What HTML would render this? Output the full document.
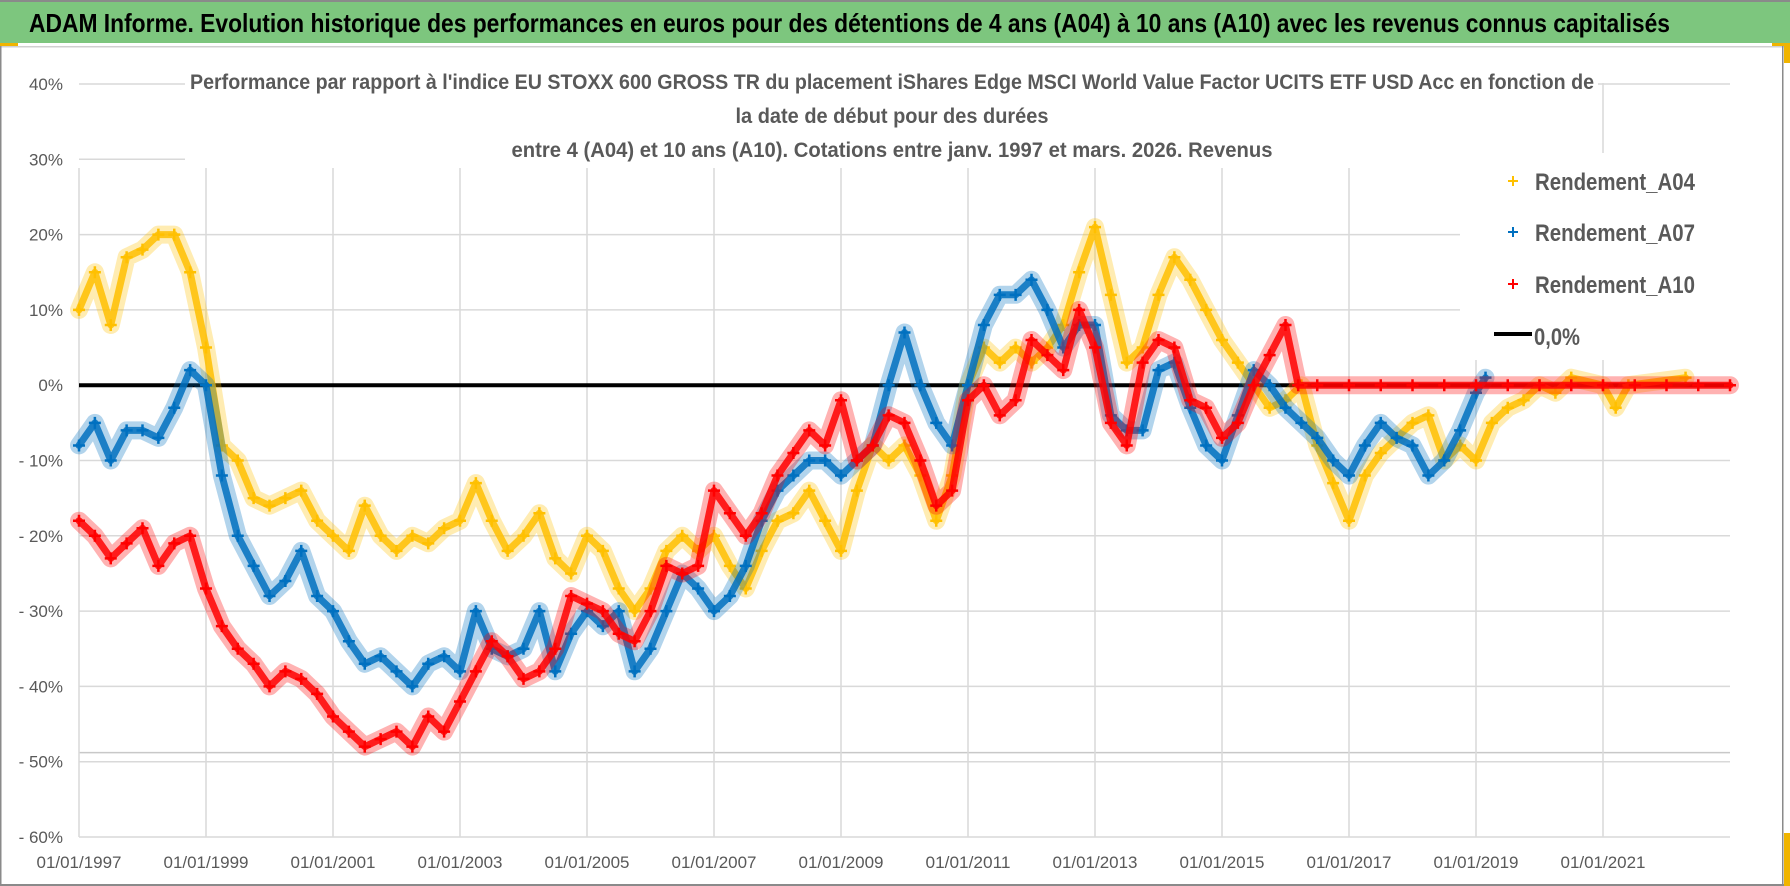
<!DOCTYPE html>
<html><head><meta charset="utf-8"><style>
html,body{margin:0;padding:0;background:#fff;}
svg{display:block;}
text{font-family:"Liberation Sans Narrow","Liberation Sans",sans-serif;}
</style></head><body>
<svg id="chart" width="1790" height="886" viewBox="0 0 1790 886" xmlns="http://www.w3.org/2000/svg">
<rect x="0" y="0" width="1790" height="886" fill="#fff"/>
<rect x="0" y="0" width="1790" height="43" fill="#7dc67e"/>
<rect x="0" y="0" width="1790" height="2" fill="#8a8a8a"/>
<text x="29" y="32" font-size="26" font-weight="bold" fill="#000" textLength="1641" lengthAdjust="spacingAndGlyphs">ADAM Informe. Evolution historique des performances en euros pour des détentions de 4 ans (A04) à 10 ans (A10) avec les revenus connus capitalisés</text>
<rect x="0" y="43" width="1790" height="3" fill="#fff"/>
<rect x="0" y="46" width="1790" height="1.5" fill="#d0d0d0"/>
<rect x="0" y="43" width="18" height="3" fill="#f0b400"/>
<rect x="0" y="46" width="1.5" height="840" fill="#8a8a8a"/>
<rect x="1782" y="46" width="1.5" height="840" fill="#8a8a8a"/>
<rect x="0" y="884" width="1790" height="2" fill="#8a8a8a"/>
<rect x="1772" y="43" width="18" height="3" fill="#f0b400"/>
<rect x="1784" y="43" width="6" height="20" fill="#f0b400"/>
<rect x="1784" y="833" width="6" height="53" fill="#f0b400"/>
<g id="grid"></g>
<g id="series"></g>
<rect x="185" y="68" width="1413" height="100" fill="#fff"/>
<rect x="1460" y="153" width="276" height="207" fill="#fff"/>
<g font-weight="bold" fill="#595959" font-size="21" text-anchor="middle">
<text x="892" y="89" textLength="1404" lengthAdjust="spacingAndGlyphs">Performance par rapport à l'indice EU STOXX 600 GROSS TR  du placement iShares Edge MSCI World Value Factor UCITS ETF USD Acc en fonction de</text>
<text x="892" y="123" textLength="313" lengthAdjust="spacingAndGlyphs">la date de début pour des durées</text>
<text x="892" y="157" textLength="761" lengthAdjust="spacingAndGlyphs">entre 4 (A04) et 10 ans (A10). Cotations entre janv. 1997 et mars. 2026. Revenus</text>
</g>
<g id="ylabels"></g>
<g id="xlabels"></g>
<g font-size="24" fill="#595959" font-weight="bold">
<g><path d="M1508 181h10M1513 176v10" stroke="#ffc000" stroke-width="2"/><text x="1535" y="190" textLength="160" lengthAdjust="spacingAndGlyphs">Rendement_A04</text></g>
<g><path d="M1508 232h10M1513 227v10" stroke="#0070c0" stroke-width="2"/><text x="1535" y="241" textLength="160" lengthAdjust="spacingAndGlyphs">Rendement_A07</text></g>
<g><path d="M1508 284h10M1513 279v10" stroke="#ff0000" stroke-width="2"/><text x="1535" y="293" textLength="160" lengthAdjust="spacingAndGlyphs">Rendement_A10</text></g>
<g><rect x="1494" y="332" width="38" height="4" fill="#000"/><text x="1534" y="345" textLength="46" lengthAdjust="spacingAndGlyphs">0,0%</text></g>
</g>
</svg>
<script>
const yTicks = [40,30,20,10,0,-10,-20,-30,-40,-50,-60];
const yTickLabels = ["40%","30%","20%","10%","0%","- 10%","- 20%","- 30%","- 40%","- 50%","- 60%"];
const xTicks = [1997,1999,2001,2003,2005,2007,2009,2011,2013,2015,2017,2019,2021];
const xTickLabels = ["01/01/1997","01/01/1999","01/01/2001","01/01/2003","01/01/2005","01/01/2007","01/01/2009","01/01/2011","01/01/2013","01/01/2015","01/01/2017","01/01/2019","01/01/2021"];
const datesA04 = [1997,1997.25,1997.5,1997.75,1998,1998.25,1998.5,1998.75,1999,1999.25,1999.5,1999.75,2000,2000.25,2000.5,2000.75,2001,2001.25,2001.5,2001.75,2002,2002.25,2002.5,2002.75,2003,2003.25,2003.5,2003.75,2004,2004.25,2004.5,2004.75,2005,2005.25,2005.5,2005.75,2006,2006.25,2006.5,2006.75,2007,2007.25,2007.5,2007.75,2008,2008.25,2008.5,2008.75,2009,2009.25,2009.5,2009.75,2010,2010.25,2010.5,2010.75,2011,2011.25,2011.5,2011.75,2012,2012.25,2012.5,2012.75,2013,2013.25,2013.5,2013.75,2014,2014.25,2014.5,2014.75,2015,2015.25,2015.5,2015.75,2016,2016.25,2016.5,2016.75,2017,2017.25,2017.5,2017.75,2018,2018.25,2018.5,2018.75,2019,2019.25,2019.5,2019.75,2020,2020.25,2020.5,2021,2021.2,2021.4,2022.3];
const valuesA04 = [10,15,8,17,18,20,20,15,5,-8,-10,-15,-16,-15,-14,-18,-20,-22,-16,-20,-22,-20,-21,-19,-18,-13,-18,-22,-20,-17,-23,-25,-20,-22,-27,-30,-27,-22,-20,-22,-20,-24,-27,-22,-18,-17,-14,-18,-22,-14,-8,-10,-8,-12,-18,-12,0,5,3,5,3,5,8,15,21,12,3,5,12,17,14,10,6,3,0,-3,-2,0,-8,-13,-18,-12,-9,-7,-5,-4,-10,-8,-10,-5,-3,-2,0,-1,1,0,-3,0,1];
const datesA07 = [1997,1997.25,1997.5,1997.75,1998,1998.25,1998.5,1998.75,1999,1999.25,1999.5,1999.75,2000,2000.25,2000.5,2000.75,2001,2001.25,2001.5,2001.75,2002,2002.25,2002.5,2002.75,2003,2003.25,2003.5,2003.75,2004,2004.25,2004.5,2004.75,2005,2005.25,2005.5,2005.75,2006,2006.25,2006.5,2006.75,2007,2007.25,2007.5,2007.75,2008,2008.25,2008.5,2008.75,2009,2009.25,2009.5,2009.75,2010,2010.25,2010.5,2010.75,2011,2011.25,2011.5,2011.75,2012,2012.25,2012.5,2012.75,2013,2013.25,2013.5,2013.75,2014,2014.25,2014.5,2014.75,2015,2015.25,2015.5,2015.75,2016,2016.25,2016.5,2016.75,2017,2017.25,2017.5,2017.75,2018,2018.25,2018.5,2018.75,2019,2019.15];
const valuesA07 = [-8,-5,-10,-6,-6,-7,-3,2,0,-12,-20,-24,-28,-26,-22,-28,-30,-34,-37,-36,-38,-40,-37,-36,-38,-30,-35,-36,-35,-30,-38,-33,-30,-32,-30,-38,-35,-30,-25,-27,-30,-28,-24,-18,-14,-12,-10,-10,-12,-10,-8,0,7,0,-5,-8,0,8,12,12,14,10,5,8,8,-4,-6,-6,2,3,-3,-8,-10,-4,2,0,-3,-5,-7,-10,-12,-8,-5,-7,-8,-12,-10,-6,-1,1];
const datesA10 = [1997,1997.25,1997.5,1997.75,1998,1998.25,1998.5,1998.75,1999,1999.25,1999.5,1999.75,2000,2000.25,2000.5,2000.75,2001,2001.25,2001.5,2001.75,2002,2002.25,2002.5,2002.75,2003,2003.25,2003.5,2003.75,2004,2004.25,2004.5,2004.75,2005,2005.25,2005.5,2005.75,2006,2006.25,2006.5,2006.75,2007,2007.25,2007.5,2007.75,2008,2008.25,2008.5,2008.75,2009,2009.25,2009.5,2009.75,2010,2010.25,2010.5,2010.75,2011,2011.25,2011.5,2011.75,2012,2012.25,2012.5,2012.75,2013,2013.25,2013.5,2013.75,2014,2014.25,2014.5,2014.75,2015,2015.25,2015.5,2015.75,2016,2016.2,2016.5,2017,2017.5,2018,2018.5,2019,2019.5,2020,2020.5,2021,2021.5,2022,2022.5,2023];
const valuesA10 = [-18,-20,-23,-21,-19,-24,-21,-20,-27,-32,-35,-37,-40,-38,-39,-41,-44,-46,-48,-47,-46,-48,-44,-46,-42,-38,-34,-36,-39,-38,-35,-28,-29,-30,-33,-34,-30,-24,-25,-24,-14,-17,-20,-17,-12,-9,-6,-8,-2,-10,-8,-4,-5,-10,-16,-14,-2,0,-4,-2,6,4,2,10,5,-5,-8,3,6,5,-2,-3,-7,-5,0,4,8,0,0,0,0,0,0,0,0,0,0,0,0,0,0,0];

const X0=79, X1=1730, XMIN=1997, XMAX=2023;
const Y0=84, Y1=837, VMAX=40, VMIN=-60;
function xs(d){return X0+(d-XMIN)/(XMAX-XMIN)*(X1-X0);}
function ys(v){return Y0+(VMAX-v)/(VMAX-VMIN)*(Y1-Y0);}
const NS="http://www.w3.org/2000/svg";
function mk(tag,attrs,parent){const e=document.createElementNS(NS,tag);for(const k in attrs)e.setAttribute(k,attrs[k]);parent.appendChild(e);return e;}

const grid=document.getElementById('grid');
yTicks.forEach((t,i)=>{
  const l=mk('line',{x1:X0,x2:X1,y1:ys(t),y2:ys(t),stroke:'#d9d9d9','stroke-width':1.5},grid);
  
  
});
const extra=mk('line',{x1:X0,x2:X1,y1:ys(-48.8),y2:ys(-48.8),stroke:'#c8c8c8','stroke-width':1.5},grid);


xTicks.forEach(t=>{
  const l=mk('line',{x1:xs(t),x2:xs(t),y1:(t===2021?83:168),y2:Y1,stroke:'#d9d9d9','stroke-width':1.5},grid);
  
  
});
const zero=mk('line',{x1:X0,x2:X1,y1:ys(0),y2:ys(0),stroke:'#000','stroke-width':4},grid);



const yl=document.getElementById('ylabels');
yTicks.forEach((t,i)=>{
  const e=mk('text',{x:63,y:ys(t)+6,'text-anchor':'end','font-size':17,fill:'#595959'},yl);
  e.textContent=yTickLabels[i];
  
  
});
const xl=document.getElementById('xlabels');
xTicks.forEach((t,i)=>{
  const e=mk('text',{x:xs(t),y:868,'text-anchor':'middle','font-size':17,fill:'#595959',textLength:85,lengthAdjust:'spacingAndGlyphs'},xl);
  e.textContent=xTickLabels[i];
  
  
});

const sg=document.getElementById('series');
function drawSeries(dates,vals,color,name){
  const g=mk('g',{},sg);
  
  
  const pts=dates.map((d,i)=>xs(d).toFixed(1)+','+ys(vals[i]).toFixed(1)).join(' ');
  const halo=mk('polyline',{points:pts,fill:'none',stroke:color,'stroke-width':18,'stroke-linejoin':'round','stroke-linecap':'round',opacity:0.3},g);
  
  
  const band=mk('polyline',{points:pts,fill:'none',stroke:color,'stroke-width':7,'stroke-linejoin':'round','stroke-linecap':'round',opacity:0.85},g);
  
  
  dates.forEach((d,i)=>{
    const x=xs(d), y=ys(vals[i]);
    const p=mk('path',{d:`M${x-6} ${y}h12M${x} ${y-6}v12`,stroke:color,'stroke-width':2.5},g);
    
    
  });
}
drawSeries(datesA04,valuesA04,'#ffc000','series-a04');
drawSeries(datesA07,valuesA07,'#0070c0','series-a07');
drawSeries(datesA10,valuesA10,'#ff0000','series-a10');
</script>
</body></html>
